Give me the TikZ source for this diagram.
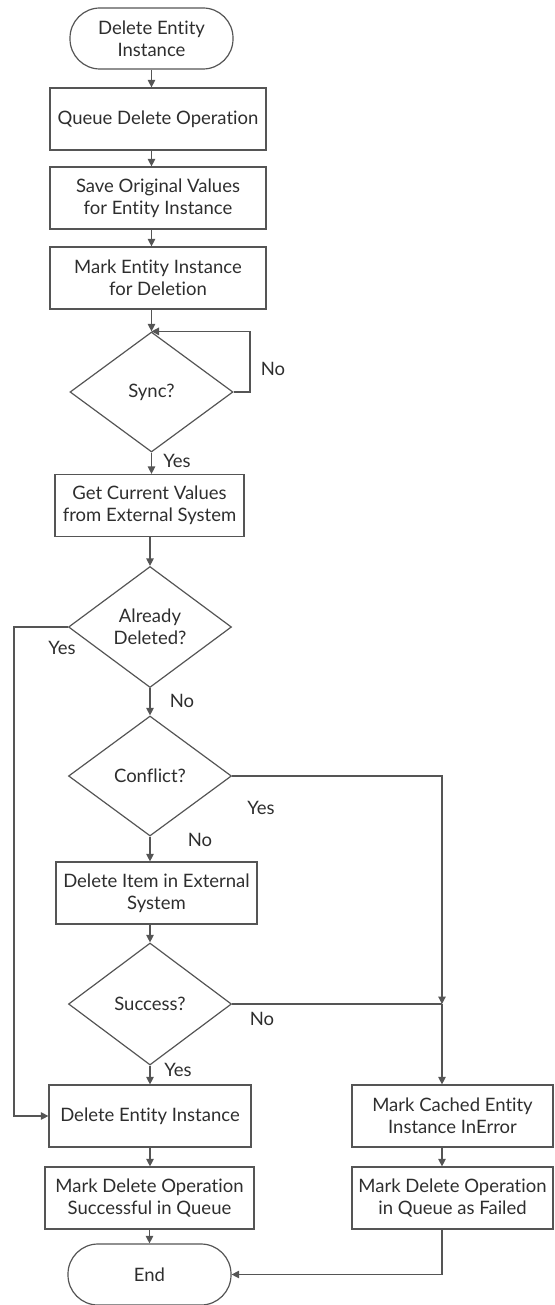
\documentclass[tikz,border=0pt]{standalone}
\usepackage{fontspec}
\setmainfont{Lato}[Ligatures=NoCommon]
\usetikzlibrary{shapes.geometric,arrows.meta}
\definecolor{ln}{HTML}{555555}
\definecolor{tx}{HTML}{2E2E2E}
\begin{document}
\begin{tikzpicture}[x=1pt,y=-1pt,
  every node/.style={text=tx,font=\fontsize{18.5}{22}\selectfont},
  box/.style={draw=ln,line width=1.2pt,rectangle,minimum height=62pt,inner sep=0pt,align=center},
  term/.style={draw=ln,line width=1.2pt,rectangle,rounded corners=30pt,minimum width=163pt,minimum height=61pt,inner sep=0pt,align=center},
  dec/.style={draw=ln,line width=1.2pt,diamond,aspect=1.35,minimum width=163pt,minimum height=121pt,inner sep=0pt,align=center},
  conn/.style={draw=ln,line width=1.2pt},
  arr/.style={conn,-{Triangle[length=7.5pt,width=7.5pt]}},
  lbl/.style={inner sep=0pt}]
\useasboundingbox (0,0) rectangle (554,1305);
\node[term] (start) at (151.5,38.5) {Delete Entity\\Instance};
\node[box,minimum width=216pt] (q) at (158,119) {Queue Delete Operation};
\node[box,minimum width=216pt] (save) at (158,198) {Save Original Values\\for Entity Instance};
\node[box,minimum width=216pt] (mark) at (158,278) {Mark Entity Instance\\for Deletion};
\node[dec,minimum height=120pt] (sync) at (151.5,392) {Sync?};
\node[box,minimum width=189pt] (get) at (149.5,505.5) {Get Current Values\\from External System};
\node[dec] (del) at (150,627) {Already\\Deleted?};
\node[dec,minimum height=120pt] (conf) at (150,776) {Conflict?};
\node[box,minimum width=201pt] (item) at (156.5,893) {Delete Item in External\\System};
\node[dec,minimum height=122pt] (succ) at (150,1004) {Success?};
\node[box,minimum width=202pt] (dei) at (150,1116) {Delete Entity Instance};
\node[box,minimum width=209pt] (mds) at (149.5,1198) {Mark Delete Operation\\Successful in Queue};
\node[term] (end) at (149.5,1274.5) {End};
\node[box,minimum width=201pt] (mc) at (452.5,1116) {Mark Cached Entity\\Instance InError};
\node[box,minimum width=201pt] (mdf) at (452.5,1198) {Mark Delete Operation\\in Queue as Failed};
\coordinate (lft) at (14,627);
\coordinate (j) at (442,1004);
\coordinate (lp) at (250,392);
% labels
\node[lbl] (l1) at (273,369) {No};
\node[lbl] (l2) at (177,461) {Yes};
\node[lbl] (l3) at (62,648) {Yes};
\node[lbl] (l4) at (182,701) {No};
\node[lbl] (l5) at (261,808) {Yes};
\node[lbl] (l6) at (200,840) {No};
\node[lbl] (l7) at (262,1019) {No};
\node[lbl] (l8) at (178,1070) {Yes};
% connectors
\draw[arr] (start.south) -- (start.south |- q.north);
\draw[arr] (start.south |- q.south) -- (start.south |- save.north);
\draw[arr] (start.south |- save.south) -- (start.south |- mark.north);
\draw[arr] (sync.north |- mark.south) -- (sync.north);
\draw[arr] (sync.east) -- (lp) |- (sync.north);
\draw[arr] (sync.south) -- (sync.south |- get.north);
\draw[arr] (del.north |- get.south) -- (del.north);
\draw[arr] (del.west) -- (lft) |- (dei.west);
\draw[arr] (del.south) -- (conf.north);
\draw[arr] (conf.south) -- (conf.south |- item.north);
\draw[arr] (conf.east) -| (j);
\draw[arr] (succ.north |- item.south) -- (succ.north);
\draw[conn] (succ.east) -- (j);
\draw[arr] (j) -- (j |- mc.north);
\draw[arr] (succ.south) -- (dei.north);
\draw[arr] (dei.south) -- (dei.south |- mds.north);
\draw[arr] (end.north |- mds.south) -- (end.north);
\draw[arr] (j |- mc.south) -- (j |- mdf.north);
\draw[arr] (j |- mdf.south) |- (end.east);
\end{tikzpicture}
\end{document}
